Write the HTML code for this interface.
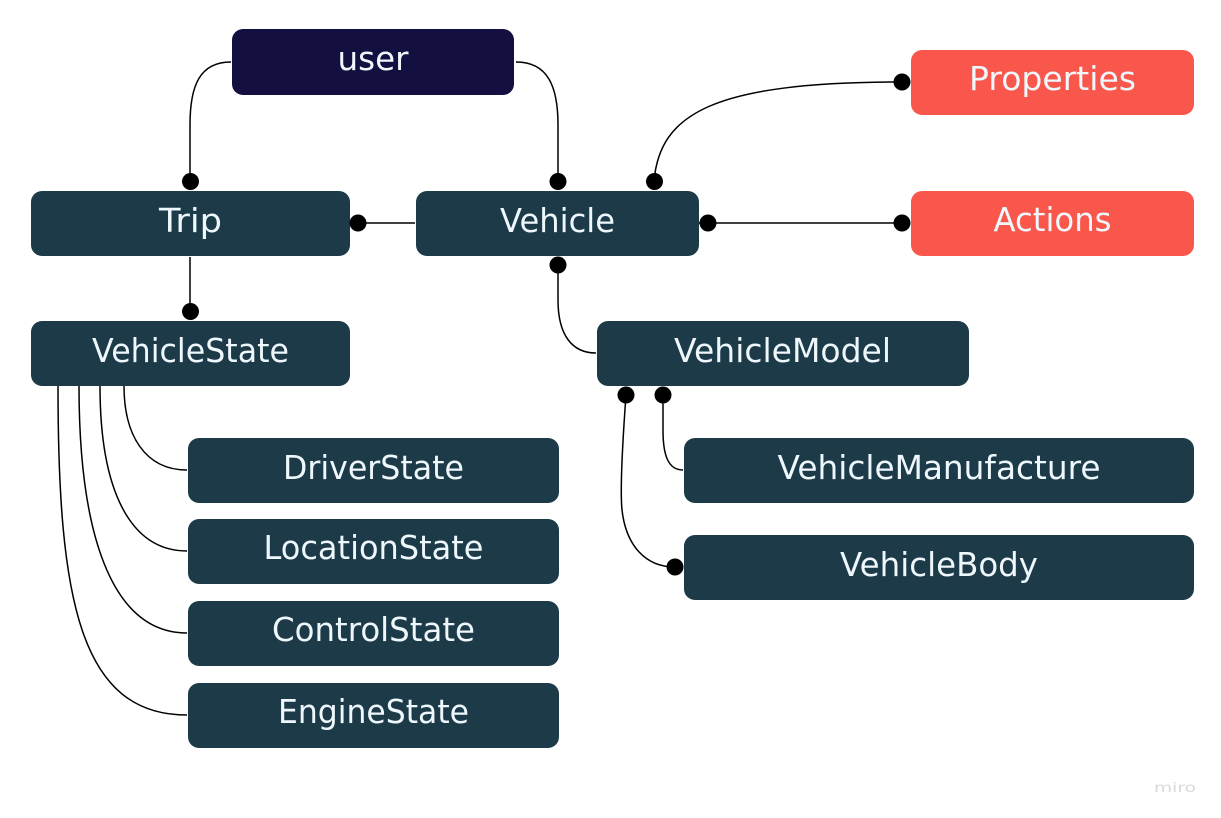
<!DOCTYPE html>
<html><head><meta charset="utf-8"><style>
html,body{margin:0;padding:0;background:#fff;width:1221px;height:818px;overflow:hidden}
svg{display:block}
text{font-family:"DejaVu Sans","Liberation Sans",sans-serif;font-size:33px;fill:#eef7fb;text-anchor:middle}
.n{fill:#1c3a48}.c{fill:none;stroke:#000;stroke-width:1.5}
</style></head><body>
<svg width="1221" height="818" viewBox="0 0 1221 818" xmlns="http://www.w3.org/2000/svg">
<g class="lines">
<path class="c" d="M231 62C200 62 190 85 190 125V181"/>
<path class="c" d="M516 62C547 62 558 85 558 125V181"/>
<path class="c" d="M654 181C660 115 710 82 902 82"/>
<path class="c" d="M358 223H415"/>
<path class="c" d="M699 223H902"/>
<path class="c" d="M190 257V311"/>
<path class="c" d="M558 265V300C558 335 572 353 596 353"/>
<path class="c" d="M663 395V430C663 455 668 470 683 470"/>
<path class="c" d="M626 395C622 450 620 490 622 510C626 545 645 567 675 567"/>
<path class="c" d="M124 386C124 435 145 470 187 470" stroke-width="1.2"/>
<path class="c" d="M100 386C100 490 130 551 187 551" stroke-width="1.2"/>
<path class="c" d="M79 386C79 530 110 633 187 633" stroke-width="1.2"/>
<path class="c" d="M58 386C58 600 80 715 187 715" stroke-width="1.2"/>
</g>
<g>
<rect x="232" y="29" width="282" height="66" rx="11" fill="#130f40"/>
<rect class="n" x="31" y="191" width="319" height="65" rx="11"/>
<rect class="n" x="416" y="191" width="283" height="65" rx="11"/>
<rect class="n" x="31" y="321" width="319" height="65" rx="11"/>
<rect class="n" x="597" y="321" width="372" height="65" rx="11"/>
<rect class="n" x="188" y="438" width="371" height="65" rx="11"/>
<rect class="n" x="188" y="519" width="371" height="65" rx="11"/>
<rect class="n" x="188" y="601" width="371" height="65" rx="11"/>
<rect class="n" x="188" y="683" width="371" height="65" rx="11"/>
<rect class="n" x="684" y="438" width="510" height="65" rx="11"/>
<rect class="n" x="684" y="535" width="510" height="65" rx="11"/>
<rect x="911" y="50" width="283" height="65" rx="11" fill="#f9574c"/>
<rect x="911" y="191" width="283" height="65" rx="11" fill="#f9574c"/>
</g>
<g fill="#000">
<circle cx="190.500" cy="181.500" r="8.500"/>
<circle cx="558" cy="181.500" r="8.500"/>
<circle cx="654.500" cy="181.500" r="8.500"/>
<circle cx="358" cy="223" r="8.500"/>
<circle cx="708" cy="223" r="8.500"/>
<circle cx="902" cy="82" r="8.500"/>
<circle cx="902" cy="223" r="8.500"/>
<circle cx="190.500" cy="311.500" r="8.500"/>
<circle cx="558" cy="265" r="8.500"/>
<circle cx="626" cy="395" r="8.500"/>
<circle cx="663" cy="395" r="8.500"/>
<circle cx="675" cy="567" r="8.500"/>
</g>
<g>
<text x="373" y="70" textLength="71" lengthAdjust="spacingAndGlyphs">user</text>
<text x="190.500" y="232" textLength="63" lengthAdjust="spacingAndGlyphs">Trip</text>
<text x="557.500" y="232" textLength="115" lengthAdjust="spacingAndGlyphs">Vehicle</text>
<text x="190.500" y="362" textLength="197" lengthAdjust="spacingAndGlyphs">VehicleState</text>
<text x="782.500" y="362" textLength="217" lengthAdjust="spacingAndGlyphs">VehicleModel</text>
<text x="373.500" y="479" textLength="181" lengthAdjust="spacingAndGlyphs">DriverState</text>
<text x="373.500" y="559" textLength="220" lengthAdjust="spacingAndGlyphs">LocationState</text>
<text x="373.500" y="641" textLength="203" lengthAdjust="spacingAndGlyphs">ControlState</text>
<text x="373.500" y="723" textLength="191" lengthAdjust="spacingAndGlyphs">EngineState</text>
<text x="939" y="479" textLength="323" lengthAdjust="spacingAndGlyphs">VehicleManufacture</text>
<text x="939" y="576" textLength="198" lengthAdjust="spacingAndGlyphs">VehicleBody</text>
<text x="1052.500" y="90" textLength="167" lengthAdjust="spacingAndGlyphs">Properties</text>
<text x="1052.500" y="231" textLength="118" lengthAdjust="spacingAndGlyphs">Actions</text>
<text x="1175" y="792" textLength="42" lengthAdjust="spacingAndGlyphs" style="font-size:13px;fill:#d9d9d9">miro</text>
</g>
</svg>
</body></html>
